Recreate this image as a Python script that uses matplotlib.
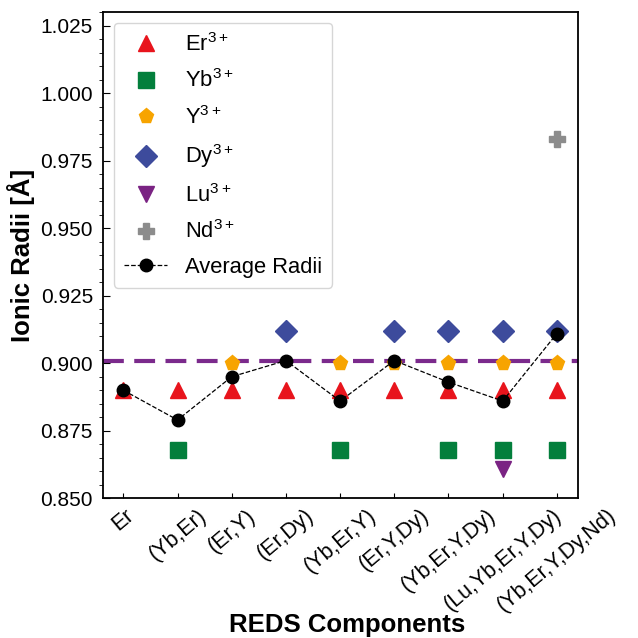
import numpy as np
import matplotlib.pyplot as plt
from matplotlib.ticker import MultipleLocator

plt.rcParams['font.family'] = ['Liberation Sans', 'DejaVu Sans']
plt.rcParams['mathtext.default'] = 'regular'

# Data
components = ['Er', '(Yb,Er)', '(Er,Y)', '(Er,Dy)', '(Yb,Er,Y)', '(Er,Y,Dy)',
              '(Yb,Er,Y,Dy)', '(Lu,Yb,Er,Y,Dy)', '(Yb,Er,Y,Dy,Nd)']
er_idx = [0, 1, 2, 3, 4, 5, 6, 7, 8]
er_val = [0.890] * 9
yb_idx = [1, 4, 6, 7, 8]
yb_val = [0.868] * 5
y_idx = [2, 4, 5, 6, 7, 8]
y_val = [0.900] * 6
dy_idx = [3, 5, 6, 7, 8]
dy_val = [0.912] * 5
lu_idx = [7]
lu_val = [0.861]
nd_idx = [8]
nd_val = [0.983]
avg_val = [0.890, 0.879, 0.895, 0.901, 0.886, 0.901, 0.893, 0.886, 0.911]
threshold = 0.901

fig = plt.figure(figsize=(6.38, 6.38), dpi=100)
ax = fig.add_axes([0.161, 0.219, 0.745, 0.762])

ms = 11
ax.plot(er_idx, er_val, '^', color='#e8141c', ms=ms, ls='none', label='Er$^{3+}$')
ax.plot(yb_idx, yb_val, 's', color='#037f3c', ms=ms, ls='none', label='Yb$^{3+}$')
ax.plot(y_idx, y_val, 'p', color='#f7a400', ms=ms, ls='none', label='Y$^{3+}$')
ax.plot(dy_idx, dy_val, 'D', color='#3d4b9c', ms=ms, ls='none', label='Dy$^{3+}$')
ax.plot(lu_idx, lu_val, 'v', color='#7a2383', ms=ms, ls='none', label='Lu$^{3+}$')
ax.plot(nd_idx, nd_val, 'P', color='#8c8c8c', ms=ms, ls='none', label='Nd$^{3+}$')
ax.plot(range(len(components)), avg_val, 'o--', color='black', lw=0.9, ms=9,
        label='Average Radii')
ax.axhline(threshold, color='#7b2a8c', lw=3, ls=(0, (5, 2.5)), zorder=0)

ax.set_xlim(-0.38, 8.39)
ax.set_ylim(0.850, 1.030)
ax.set_xticks(range(len(components)))
ax.set_xticklabels(components, rotation=40, fontsize=15.5)
ax.yaxis.set_major_locator(MultipleLocator(0.025))
ax.yaxis.set_minor_locator(MultipleLocator(0.005))
ax.tick_params(axis='y', direction='in', labelsize=15)
ax.tick_params(axis='x', direction='in', pad=5)
ax.tick_params(axis='y', which='major', length=5, pad=7)
ax.tick_params(axis='y', which='minor', length=3)
for sp in ax.spines.values():
    sp.set_linewidth(1.3)

ax.set_ylabel('Ionic Radii [Å]', fontsize=18.5, fontweight='bold', labelpad=4)
ax.set_xlabel('REDS Components', fontsize=18.5, fontweight='bold')
ax.xaxis.set_label_coords(0.515, -0.236)

ax.legend(loc='upper left', fontsize=15.8, labelspacing=0.62, borderpad=0.45)

fig.savefig('out.png', dpi=100)
